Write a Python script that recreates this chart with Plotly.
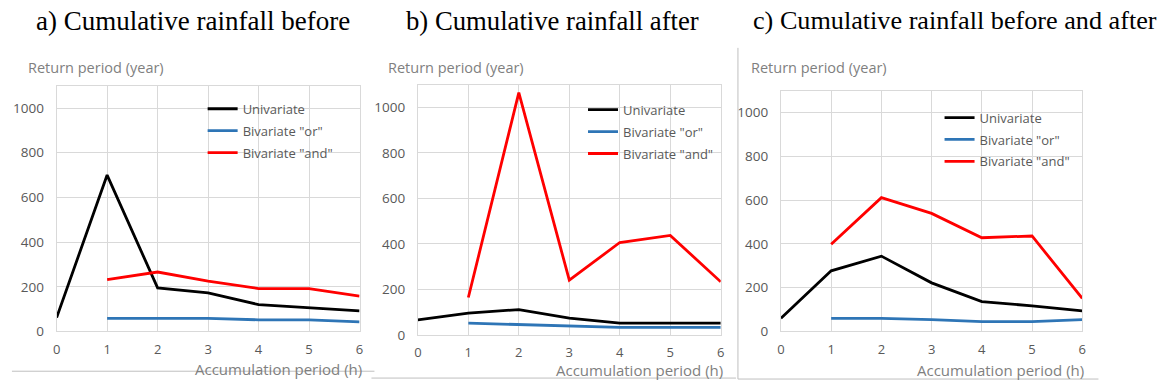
import plotly.graph_objects as go

# ---- data ----
hours = [0, 1, 2, 3, 4, 5, 6]
hours_biv = [1, 2, 3, 4, 5, 6]

a_univariate = [62, 700, 195, 173, 120, 105, 92]
a_biv_or = [59, 59, 59, 52, 52, 43]
a_biv_and = [232, 266, 225, 192, 192, 158]

b_univariate = [66, 95, 111, 73, 51, 51, 51]
b_biv_or = [51, 44, 37, 33, 33, 33]
b_biv_and = [164, 1065, 240, 406, 437, 233]

c_univariate = [60, 277, 344, 222, 136, 117, 94]
c_biv_or = [60, 60, 54, 45, 45, 54]
c_biv_and = [398, 611, 539, 428, 436, 151]

panel_titles = ["a) Cumulative rainfall before",
                "b) Cumulative rainfall after",
                "c) Cumulative rainfall before and after"]
series_names = ["Univariate", 'Bivariate "or"', 'Bivariate "and"']
y_ticks = [0, 200, 400, 600, 800, 1000]
x_ticks = [0, 1, 2, 3, 4, 5, 6]

W, H = 1169, 390
def px(x): return x / W
def py(y): return 1 - y / H

SANS = "Open Sans"
GREY = "#7F7F7F"
colors = ["#000000", "#2E75B6", "#FF0000"]
panels = [
    (a_univariate, a_biv_or, a_biv_and),
    (b_univariate, b_biv_or, b_biv_and),
    (c_univariate, c_biv_or, c_biv_and),
]
# plot areas in pixels: left, right, top, bottom
boxes = [(53, 358, 87.7, 339.3), (416.7, 721.7, 86.7, 342.7), (782.3, 1085.7, 92.7, 339.3)]
legend_pos = [(200, 96), (583, 97), (942, 105)]
title_left = [30, 403, 752]
title_size = [27, 26.7, 26.2]
ytitle_left = [22, 385, 750]
xtitle_y = [377.5, 379, 379]

fig = go.Figure()
layout = dict(
    width=W, height=H, margin=dict(l=0, r=0, t=0, b=0),
    paper_bgcolor="white", plot_bgcolor="white", showlegend=True,
)
annotations = []
for i, (uni, bor, band) in enumerate(panels):
    sfx = "" if i == 0 else str(i + 1)
    leg = "legend" if i == 0 else f"legend{i+1}"
    for k, (name, xs, ys, col) in enumerate([(series_names[0], hours, uni, colors[0]),
                                             (series_names[1], hours_biv, bor, colors[1]),
                                             (series_names[2], hours_biv, band, colors[2])]):
        fig.add_trace(go.Scatter(x=xs, y=ys, mode="lines", name=name,
                                 line=dict(color=col, width=2.8),
                                 legendgroup=f"p{i}s{k}",
                                 xaxis="x" + sfx, yaxis="y" + sfx, legend=leg))
    l, r, t, b = boxes[i]
    layout["xaxis" + sfx] = dict(
        domain=[px(l), px(r)], anchor="y" + sfx, range=[0, 6], tickvals=x_ticks,
        showgrid=True, gridcolor="#D9D9D9", gridwidth=1, zeroline=False,
        showline=True, linecolor="#D9D9D9", mirror=True,
        tickfont=dict(family=SANS, size=13, color="#595959"),
        ticklabelstandoff=6,
    )
    layout["yaxis" + sfx] = dict(
        domain=[py(b), py(t)], anchor="x" + sfx, range=[0, 1100], tickvals=y_ticks,
        showgrid=True, gridcolor="#D9D9D9", gridwidth=1, zeroline=False,
        showline=True, linecolor="#D9D9D9", mirror=True,
        tickfont=dict(family=SANS, size=13.5, color="#595959"),
        ticklabelstandoff=9,
    )
    lx, ly = legend_pos[i]
    layout[leg] = dict(
        x=px(lx), y=py(ly), xanchor="left", yanchor="top",
        bgcolor="rgba(0,0,0,0)", borderwidth=0,
        font=dict(family=SANS, size=13, color="#595959"),
        tracegroupgap=2,
    )
    annotations.append(dict(text=panel_titles[i], x=px(title_left[i]), y=py(21),
                            xref="paper", yref="paper", xanchor="left", yanchor="middle",
                            showarrow=False,
                            font=dict(family="Liberation Serif", size=title_size[i], color="black")))
    annotations.append(dict(text="Return period (year)", x=px(ytitle_left[i]), y=py(69),
                            xref="paper", yref="paper", xanchor="left", yanchor="middle",
                            showarrow=False,
                            font=dict(family=SANS, size=14.5, color=GREY)))
    annotations.append(dict(text="Accumulation period (h)", x=px(r + 4), y=py(xtitle_y[i]),
                            xref="paper", yref="paper", xanchor="right", yanchor="middle",
                            showarrow=False,
                            font=dict(family=SANS, size=15, color=GREY)))

shapes = [
    dict(type="line", xref="paper", yref="paper", x0=px(8), x1=px(373), y0=py(380), y1=py(380),
         line=dict(color="#BFBFBF", width=1)),
    dict(type="line", xref="paper", yref="paper", x0=px(370), x1=px(737), y0=py(387), y1=py(387),
         line=dict(color="#BFBFBF", width=1)),
    dict(type="line", xref="paper", yref="paper", x0=px(739), x1=px(739), y0=py(49), y1=py(388),
         line=dict(color="#BFBFBF", width=1)),
    dict(type="line", xref="paper", yref="paper", x0=px(739), x1=px(1102), y0=py(388), y1=py(388),
         line=dict(color="#BFBFBF", width=1)),
]
layout["annotations"] = annotations
layout["shapes"] = shapes
fig.update_layout(**layout)
fig.write_html("out.html", config={"displayModeBar": False},
               post_script="document.body.style.margin='0';document.body.style.overflow='hidden';")
